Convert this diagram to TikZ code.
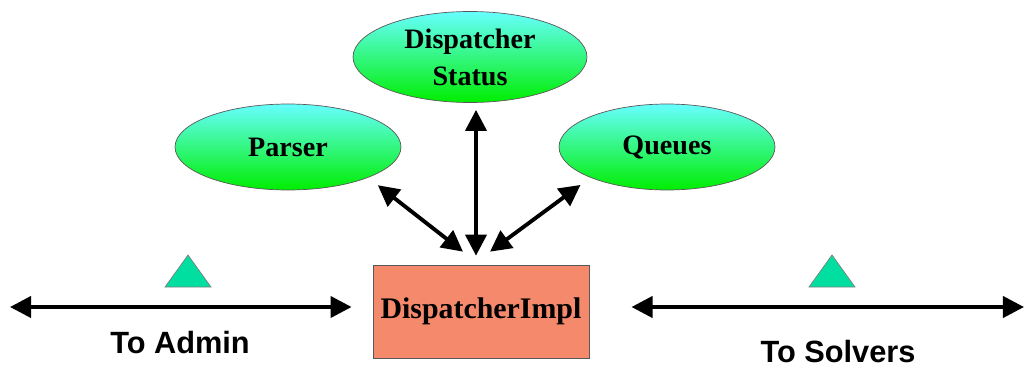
\documentclass[tikz,border=0pt]{standalone}
\usepackage{fontspec}
\setmainfont{Liberation Serif}
\setsansfont{Liberation Sans}
\usepackage{tikz}
\usetikzlibrary{shapes,arrows.meta,positioning,calc}

\definecolor{cyantop}{RGB}{102,255,255}
\definecolor{greenbot}{RGB}{0,238,0}
\definecolor{implfill}{RGB}{244,137,107}
\definecolor{markfill}{RGB}{0,222,160}

\begin{document}
\begin{tikzpicture}[x=0.02cm, y=-0.02cm,
        blob/.style={draw=gray!70!black, ellipse, top color=cyantop, bottom color=greenbot,
            inner sep=0pt, align=center, font=\fontsize{16}{21}\selectfont\bfseries},
        block/.style={draw=gray!70!black, rectangle, fill=implfill, minimum width=4.32cm,
            minimum height=1.86cm, font=\fontsize{17}{20}\selectfont\bfseries},
        link/.style={line width=2.2pt, {Triangle[length=12pt,width=12pt]}-{Triangle[length=12pt,width=12pt]}},
        pointer/.style={draw=gray, fill=markfill},
        side/.style={font=\sffamily\bfseries\fontsize{17.5}{20}\selectfont}
    ]
        \useasboundingbox (0,0) rectangle (1027,368);

        \node [block] (impl) at (481,311.5) {DispatcherImpl};
        \node [blob, minimum width=4.68cm, minimum height=1.82cm] (status) at (470,57) {Dispatcher\\Status};
        \node [blob, minimum width=4.52cm, minimum height=1.72cm] (parser) at (288,147) {Parser};
        \node [blob, minimum width=4.32cm, minimum height=1.72cm] (queues) at (667,147) {Queues};

        \coordinate (tipV) at ($(impl.north)+(-5,-9)$);
        \coordinate (tipL) at ($(impl.north)+(-18,-13)$);
        \coordinate (tipR) at ($(impl.north)+(9,-13)$);
        \coordinate (admin) at (10,307);
        \coordinate (solvers) at (1024,307);

        \draw [link, shorten >=4pt] (tipV) -- (tipV |- status.south);
        \draw [link, shorten >=7pt] (tipL) -- (parser.south east);
        \draw [link, shorten >=7pt] (tipR) -- (queues.south west);
        \draw [link, shorten >=12pt] (admin) -- (admin -| impl.west);
        \draw [link, shorten >=24pt] (solvers) -- (solvers -| impl.east);

        % triangles over the side links
        \draw [pointer] (188,255) -- (211,287) -- (165,287) -- cycle;
        \draw [pointer] (832,255) -- (855,287) -- (809,287) -- cycle;

        \node [side] (toadmin) at (180,343) {To Admin};
        \node [side] (tosolvers) at (838,352) {To Solvers};

    \end{tikzpicture}
\end{document}
